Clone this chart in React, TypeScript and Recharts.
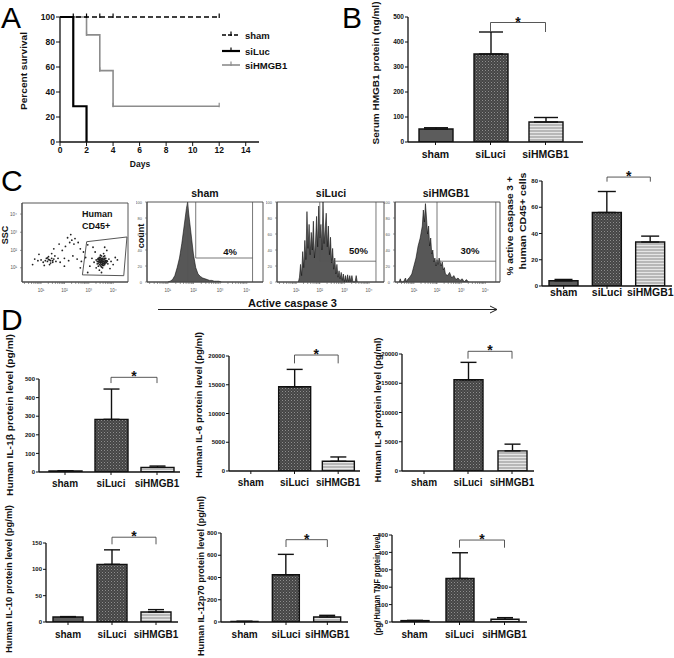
import React from 'react';
import {
  BarChart, Bar, Cell, XAxis, YAxis, ErrorBar, ReferenceLine, LineChart, Line,
  ScatterChart, Scatter, AreaChart, Area, ReferenceArea,
} from 'recharts';

const FONT = '"Liberation Sans", Arial, Helvetica, sans-serif';

/* ======================= DATA ======================= */
const groups = ['sham', 'siLuci', 'siHMGB1'];

// A - survival
const dayTicks = [0, 2, 4, 6, 8, 10, 12, 14];
const percentTicks = [0, 20, 40, 60, 80, 100];
const shamDays = [0, 1, 2, 3, 4, 12];
const shamSurvival = [100, 100, 100, 100, 100, 100];
const shamCensor = [0, 1, 1, 1, 1, 1];
const siLucDays = [0, 1, 2];
const siLucSurvival = [100, 28.6, 0];
const siLucCensor = [0, 0, 0];
const siHmgbDays = [0, 2, 3, 4, 12];
const siHmgbSurvival = [100, 85.7, 57.1, 28.6, 28.6];
const siHmgbCensor = [0, 1, 1, 1, 1];

// B - serum HMGB1 (ng/ml)
const serumMean = [52, 352, 80];
const serumSem = [5, 88, 18];
const serumTicks = [0, 100, 200, 300, 400, 500];
const serumBracket = [440, 478];

// C - flow cytometry
const dotX = [74, 75, 76, 73, 77, 78, 72, 75, 76, 74, 79, 71, 77, 80, 73, 75, 78, 70, 81, 76, 72, 74, 79, 68, 82, 77, 70, 84, 73, 66, 86, 80, 69, 88, 64, 75, 83, 90, 67, 78,
  74, 76, 75, 77, 73, 78, 72, 76, 74, 75, 77, 79, 71, 76, 73, 78,
  74.5, 75.5, 76.5, 73.5, 77.5, 72.5, 78.5, 75, 76, 74, 73, 77, 79.5, 71.5, 80.5, 74, 76, 75, 78, 72,
  26, 24, 28, 22, 27, 30, 25, 20, 29, 23, 32, 18, 26, 31, 15, 34, 21, 36, 12, 28, 25, 27, 24, 29,
  40, 44, 48, 52, 56, 60, 38, 45, 47, 50, 43, 49, 53, 46, 41, 55, 58, 35, 30, 62, 16, 10, 55, 62, 40];
const dotY = [25, 27, 24, 22, 26, 28, 26, 22, 30, 29, 24, 23, 21, 27, 31, 19, 33, 28, 23, 18, 20, 34, 30, 25, 29, 36, 18, 26, 15, 30, 22, 40, 38, 31, 20, 12, 17, 28, 44, 44,
  26, 26, 28, 24, 27, 25, 24, 28, 23, 25, 29, 27, 26, 22, 29, 30,
  25.5, 24.5, 26.5, 27.5, 23.5, 28.5, 26, 29.5, 22.5, 31, 25, 32, 25, 29, 26, 20.5, 21, 33, 22, 30,
  28, 26, 30, 27, 24, 29, 32, 25, 27, 30, 26, 28, 22, 33, 27, 30, 21, 25, 29, 36, 28.5, 27, 30.5, 25,
  30, 27, 33, 29, 26, 31, 40, 50, 53, 55, 56, 48, 50, 60, 45, 42, 38, 48, 42, 47, 35, 22, 18, 12, 20];
const gateX = [57, 61, 99, 96, 57];
const gateY = [9, 51, 57, 8, 9];
const logMajor = [18, 40, 63, 86];
const logMajorLabel = ['10¹', '10²', '10³', '10⁴'];
const logTicks = [2.3, 6.2, 9, 11.2, 13, 14.5, 15.8, 17, 18, 24.8, 28.7, 31.5, 33.7, 35.5, 37, 38.3, 39.5, 40,
  46.8, 50.7, 53.5, 55.7, 57.5, 59, 60.3, 61.5, 63, 69.8, 73.7, 76.5, 78.7, 80.5, 82, 83.3, 84.5, 86];
const countTicks = [0, 20, 40, 60, 80, 100];

const shamBinX = [18, 20, 22, 24, 26, 28, 30, 32, 34, 35, 36, 38, 40, 42, 44, 46, 48, 50, 52, 54, 56, 58, 60, 62, 64];
const shamCount = [0, 1, 3, 8, 18, 30, 48, 70, 92, 100, 85, 60, 35, 18, 10, 7, 5, 4, 3, 2, 2, 1, 1, 1, 0];
const luciBinX = [20, 21, 22, 23, 24, 25, 26, 27, 28, 29, 30, 31, 32, 33, 34, 35, 36, 37, 38, 39, 40, 41, 42, 43, 44, 45, 46, 47, 48, 49,
  50, 51, 52, 53, 54, 55, 56, 57, 58, 59, 60, 61, 62, 63, 64, 65, 66, 67, 68, 69, 70, 71, 72, 73, 74, 75];
const luciCount = [0, 6, 22, 8, 38, 18, 52, 28, 88, 42, 72, 34, 62, 40, 76, 30, 50, 82, 44, 95, 55, 72, 40, 100, 48, 66, 86, 44, 70, 34,
  56, 24, 42, 16, 30, 10, 22, 6, 14, 4, 12, 2, 10, 0, 8, 0, 9, 0, 8, 0, 8, 0, 0, 0, 8, 0];
const hmgbBinX = [4, 5, 6, 8, 10, 11, 12, 14, 16, 18, 20, 22, 24, 26, 27, 28, 29, 30, 31, 32, 33, 34, 35, 36, 37, 38, 39, 40, 41, 42,
  43, 44, 45, 46, 47, 48, 50, 52, 54, 56, 58, 60, 62, 64, 66, 68, 70];
const hmgbCount = [0, 4, 0, 0, 5, 0, 3, 6, 10, 20, 30, 45, 55, 70, 90, 75, 98, 80, 60, 70, 45, 55, 35, 40, 25, 30, 20, 28, 22, 30,
  25, 20, 25, 15, 18, 10, 8, 12, 5, 8, 3, 5, 2, 4, 0, 3, 0];

// C - % active caspase 3+ human CD45+ cells
const caspMean = [4, 56, 33.5];
const caspSem = [1, 16, 4.5];
const caspTicks = [0, 20, 40, 60, 80];
const caspBracket = [79.5, 83];

// D - cytokines (pg/ml)
const il1bMean = [5, 283, 25];
const il1bSem = [1, 163, 7];
const il1bTicks = [0, 100, 200, 300, 400, 500];
const il1bBracket = [478, 509];

const il6Mean = [0, 14650, 1690];
const il6Sem = [0, 3020, 750];
const il6Ticks = [0, 5000, 10000, 15000, 20000];
const il6Bracket = [18720, 20170];

const il8Mean = [0, 15590, 3440];
const il8Sem = [0, 2980, 1150];
const il8Ticks = [0, 5000, 10000, 15000, 20000];
const il8Bracket = [19200, 20460];

const il10Mean = [9.5, 109.5, 19];
const il10Sem = [0.8, 27.5, 4.5];
const il10Ticks = [0, 50, 100, 150];
const il10Bracket = [147.5, 161];

const il12Mean = [5, 425, 45];
const il12Sem = [1, 183, 15];
const il12Ticks = [0, 200, 400, 600, 800];
const il12Bracket = [674, 740];

const tnfMean = [8, 250, 16];
const tnfSem = [1, 148, 9];
const tnfTicks = [0, 100, 200, 300, 400, 500];
const tnfBracket = [427, 471];

/* ======================= HELPERS ======================= */
type Geo = { x0: number; x1: number; y0: number; y1: number };
function place(g: Geo, yw: number, xh: number, mt: number, mr: number) {
  return { left: g.x0 - yw, top: g.y0 - mt, width: g.x1 - g.x0 + yw + mr, height: g.y1 - g.y0 + mt + xh };
}
const INK = '#111';
const barFills = ['#5c5c5c', 'url(#hatchDark)', 'url(#stripeLight)'];

function PatternDefs() {
  return (
    <svg width={0} height={0} style={{ position: 'absolute', left: 0, top: 0 }}>
      <defs>
        <pattern id="hatchDark" width={3} height={3} patternUnits="userSpaceOnUse">
          <rect width={3} height={3} fill="#454545" />
          <rect x={0} y={0} width={1} height={1} fill="#8e8e8e" />
          <rect x={1.5} y={1.5} width={1} height={1} fill="#727272" />
        </pattern>
        <pattern id="stripeLight" width={4} height={3} patternUnits="userSpaceOnUse">
          <rect width={4} height={3} fill="#b8b8b8" />
          <rect y={2} width={4} height={1} fill="#e6e6e6" />
        </pattern>
      </defs>
    </svg>
  );
}

interface BarSpec {
  geo: Geo; padL: number; padR: number; max: number; ticks: number[];
  mean: number[]; sem: number[]; bracket: number[]; barSize: number; cap: number;
  catFont: number; catGap: number; tickFont: number;
}

function BarPanel({ s }: { s: BarSpec }) {
  const YW = 34, XH = 28, MT = 34, MR = 4;
  const p = place(s.geo, YW, XH, MT, MR);
  const data = groups.map((g, i) => ({ group: g, mean: s.mean[i], err: [0, s.sem[i]] }));
  const lo = s.bracket[0];
  const hi = s.bracket[1];
  return (
    <div style={{ position: 'absolute', left: p.left, top: p.top }}>
      <BarChart width={p.width} height={p.height} data={data} margin={{ top: MT, right: MR, left: 0, bottom: 0 }}>
        <XAxis dataKey="group" height={XH} interval={0} padding={{ left: s.padL, right: s.padR }} tickSize={3} tickMargin={s.catGap}
          tick={{ fontSize: s.catFont, fontWeight: 700, fill: INK, fontFamily: FONT }}
          axisLine={{ stroke: INK, strokeWidth: 1.3 }} tickLine={{ stroke: INK, strokeWidth: 1 }} />
        <YAxis width={YW} domain={[0, s.max]} ticks={s.ticks} interval={0} allowDataOverflow tickSize={3} tickMargin={1}
          tick={{ fontSize: s.tickFont, fontWeight: 700, fill: INK, fontFamily: FONT }}
          axisLine={{ stroke: INK, strokeWidth: 1.3 }} tickLine={{ stroke: INK, strokeWidth: 1 }} />
        <Bar dataKey="mean" barSize={s.barSize} isAnimationActive={false} stroke={INK} strokeWidth={1.4}>
          {data.map((d, i) => <Cell key={d.group} fill={barFills[i]} />)}
          <ErrorBar dataKey="err" width={s.cap} stroke={INK} strokeWidth={1.4} direction="y" />
        </Bar>
        <ReferenceLine ifOverflow="visible" segment={[{ x: 'siLuci', y: lo }, { x: 'siLuci', y: hi }]} stroke="#444" strokeWidth={0.9} />
        <ReferenceLine ifOverflow="visible" segment={[{ x: 'siLuci', y: hi }, { x: 'siHMGB1', y: hi }]} stroke="#444" strokeWidth={0.9}
          label={{ value: '*', position: 'top', offset: -4, fontSize: 14, fontWeight: 700, fill: INK, fontFamily: FONT }} />
        <ReferenceLine ifOverflow="visible" segment={[{ x: 'siHMGB1', y: hi }, { x: 'siHMGB1', y: lo }]} stroke="#444" strokeWidth={0.9} />
      </BarChart>
    </div>
  );
}

const makeCensor = (color: string) => (pr: any) => {
  const key = `c-${pr.index}`;
  if (!pr.payload || !pr.payload.c) return <g key={key} />;
  return <line key={key} x1={pr.cx} x2={pr.cx} y1={pr.cy - 3.5} y2={pr.cy + 1} stroke={color} strokeWidth={1.2} />;
};

function SurvivalPanel() {
  const YW = 36, XH = 20, MT = 8, MR = 4;
  const p = place({ x0: 60, x1: 259, y0: 17, y1: 142 }, YW, XH, MT, MR);
  const sham = shamDays.map((d, i) => ({ day: d, v: shamSurvival[i], c: shamCensor[i] }));
  const luc = siLucDays.map((d, i) => ({ day: d, v: siLucSurvival[i], c: siLucCensor[i] }));
  const hmgb = siHmgbDays.map((d, i) => ({ day: d, v: siHmgbSurvival[i], c: siHmgbCensor[i] }));
  const tk = { fontSize: 8.5, fontWeight: 700, fill: INK, fontFamily: FONT };
  return (
    <div style={{ position: 'absolute', left: p.left, top: p.top }}>
      <LineChart width={p.width} height={p.height} margin={{ top: MT, right: MR, left: 0, bottom: 0 }}>
        <XAxis type="number" dataKey="day" domain={[0, 15]} ticks={dayTicks} interval={0} height={XH} tickSize={4} tickMargin={1}
          tick={tk} axisLine={{ stroke: INK, strokeWidth: 1.3 }} tickLine={{ stroke: INK }} />
        <YAxis type="number" domain={[0, 100]} ticks={percentTicks} interval={0} width={YW} tickSize={4} tickMargin={1}
          tick={tk} axisLine={{ stroke: INK, strokeWidth: 1.3 }} tickLine={{ stroke: INK }} />
        <Line data={hmgb} dataKey="v" type="stepAfter" stroke="#8c8c8c" strokeWidth={1.6} isAnimationActive={false}
          dot={makeCensor('#8c8c8c')} activeDot={false} />
        <Line data={luc} dataKey="v" type="stepAfter" stroke="#000" strokeWidth={2.2} isAnimationActive={false}
          dot={makeCensor('#000')} activeDot={false} />
        <Line data={sham} dataKey="v" type="stepAfter" stroke="#000" strokeWidth={1.4} strokeDasharray="5 3" isAnimationActive={false}
          dot={makeCensor('#000')} activeDot={false} />
      </LineChart>
    </div>
  );
}

function TinyXTick(pr: any) {
  const idx = logMajor.indexOf(pr.payload.value);
  if (idx < 0) return <g />;
  return <text x={pr.x} y={pr.y + 6} fontSize={4.5} textAnchor="middle" fill="#555" fontFamily={FONT}>{logMajorLabel[idx]}</text>;
}
function TinyYTick(pr: any) {
  return <text x={pr.x - 1} y={pr.y + 1.5} fontSize={4} textAnchor="end" fill="#555" fontFamily={FONT}>{pr.payload.value}</text>;
}
function TinyLogYTick(pr: any) {
  const idx = logMajor.indexOf(pr.payload.value);
  return <text x={pr.x - 1} y={pr.y + 1.5} fontSize={4.5} textAnchor="end" fill="#555" fontFamily={FONT}>{logMajorLabel[idx]}</text>;
}

function DotPlot() {
  const YW = 14, XH = 12, MT = 2, MR = 2;
  const p = place({ x0: 22, x1: 128, y0: 203, y1: 282 }, YW, XH, MT, MR);
  const pts = dotX.map((x, i) => ({ x, y: dotY[i] }));
  const gate = gateX.map((x, i) => ({ x, y: gateY[i] }));
  return (
    <div style={{ position: 'absolute', left: p.left, top: p.top }}>
      <ScatterChart width={p.width} height={p.height} margin={{ top: MT, right: MR, left: 0, bottom: 0 }}>
        <XAxis type="number" dataKey="x" domain={[0, 100]} ticks={logTicks} interval={0} height={XH} tickSize={2}
          tick={(t: any) => <TinyXTick {...t} />} axisLine={{ stroke: '#444' }} tickLine={{ stroke: '#555', strokeWidth: 0.6 }} />
        <YAxis type="number" dataKey="y" domain={[0, 100]} ticks={logMajor} interval={0} width={YW} tickSize={2}
          tick={(t: any) => <TinyLogYTick {...t} />} axisLine={{ stroke: '#444' }} tickLine={{ stroke: '#555', strokeWidth: 0.6 }} />
        <ReferenceArea x1={0} x2={100} y1={0} y2={100} fill="none" stroke="#444" strokeWidth={0.9} ifOverflow="visible" />
        <Scatter data={pts} isAnimationActive={false}
          shape={(s: any) => <circle cx={s.cx} cy={s.cy} r={0.9} fill="#222" />} />
        <Scatter data={gate} isAnimationActive={false} line={{ stroke: '#444', strokeWidth: 0.9 }}
          shape={() => <g />} />
      </ScatterChart>
    </div>
  );
}

interface HistSpec { x0: number; x1: number; bins: number[]; counts: number[]; peakLine?: number; gL: number; gH: number; gR: number; }
function Histogram({ h }: { h: HistSpec }) {
  const YW = 11, XH = 12, MT = 2, MR = 2;
  const p = place({ x0: h.x0, x1: h.x1, y0: 202, y1: 282 }, YW, XH, MT, MR);
  const rows = h.bins.map((x, i) => ({ x, y: h.counts[i] }));
  const ln = { stroke: '#555', strokeWidth: 0.8 };
  return (
    <div style={{ position: 'absolute', left: p.left, top: p.top }}>
      <AreaChart width={p.width} height={p.height} data={rows} margin={{ top: MT, right: MR, left: 0, bottom: 0 }}>
        <XAxis type="number" dataKey="x" domain={[0, 100]} ticks={logTicks} interval={0} height={XH} tickSize={2}
          tick={(t: any) => <TinyXTick {...t} />} axisLine={{ stroke: '#444' }} tickLine={{ stroke: '#555', strokeWidth: 0.6 }} />
        <YAxis type="number" domain={[0, 100]} ticks={countTicks} interval={0} width={YW} tickSize={2}
          tick={(t: any) => <TinyYTick {...t} />} axisLine={{ stroke: '#444' }} tickLine={{ stroke: '#555', strokeWidth: 0.6 }} />
        <ReferenceArea x1={0} x2={100} y1={0} y2={100} fill="none" stroke="#444" strokeWidth={0.9} ifOverflow="visible" />
        <Area dataKey="y" type="linear" fill="#575757" fillOpacity={1} stroke="#111" strokeWidth={0.6} isAnimationActive={false}
          dot={false} activeDot={false} />
        {h.peakLine !== undefined && (
          <ReferenceLine segment={[{ x: h.peakLine, y: 0 }, { x: h.peakLine, y: 100 }]} {...ln} />
        )}
        <ReferenceLine segment={[{ x: h.gL, y: 100 }, { x: h.gL, y: h.gH }]} {...ln} />
        <ReferenceLine segment={[{ x: h.gL, y: h.gH }, { x: h.gR, y: h.gH }]} {...ln} />
        <ReferenceLine segment={[{ x: h.gR, y: 0 }, { x: h.gR, y: 100 }]} {...ln} />
      </AreaChart>
    </div>
  );
}

function VText({ x, y, len, size = 9, children }: { x: number; y: number; len?: number; size?: number; children: React.ReactNode }) {
  return (
    <text transform={`translate(${x},${y}) rotate(-90)`} textAnchor="middle" dominantBaseline="central"
      fontSize={size} fontWeight={700} fontFamily={FONT} fill={INK}
      textLength={len} lengthAdjust={len ? 'spacingAndGlyphs' : undefined}>{children}</text>
  );
}

function Overlay() {
  const bold = { fontWeight: 700, fontFamily: FONT, fill: INK } as const;
  const letter = { fontSize: 30, fontFamily: FONT, fill: '#000' } as const;
  return (
    <svg width={674} height={658} style={{ position: 'absolute', left: 0, top: 0, pointerEvents: 'none' }}>
      {/* panel letters */}
      <text x={1} y={28} {...letter}>A</text>
      <text x={342} y={28} {...letter}>B</text>
      <text x={1} y={191} {...letter}>C</text>
      <text x={1} y={330} {...letter}>D</text>

      {/* A */}
      <VText x={23.5} y={71} len={78} size={9}>Percent survival</VText>
      <text x={140} y={167} textAnchor="middle" fontSize={8.5} {...bold}>Days</text>
      <line x1={222} x2={240} y1={35} y2={35} stroke="#000" strokeWidth={1.4} strokeDasharray="4 2" />
      <line x1={231} x2={231} y1={31.5} y2={36} stroke="#000" strokeWidth={1.2} />
      <text x={245} y={38.5} fontSize={9.5} {...bold}>sham</text>
      <line x1={222} x2={240} y1={51} y2={51} stroke="#000" strokeWidth={2.2} />
      <line x1={231} x2={231} y1={47.5} y2={52} stroke="#000" strokeWidth={1.2} />
      <text x={245} y={54.5} fontSize={9.5} {...bold}>siLuc</text>
      <line x1={222} x2={240} y1={65} y2={65} stroke="#8c8c8c" strokeWidth={1.6} />
      <line x1={231} x2={231} y1={61.5} y2={66} stroke="#8c8c8c" strokeWidth={1.2} />
      <text x={245} y={68.5} fontSize={9.5} {...bold}>siHMGB1</text>

      {/* B */}
      <VText x={376} y={73} len={143} size={9}>Serum HMGB1 protein (ng/ml)</VText>

      {/* C flow */}
      <VText x={5} y={235} size={9}>SSC</VText>
      <text x={82} y={217} fontSize={9} {...bold}>Human</text>
      <text x={82} y={229} fontSize={9} {...bold}>CD45+</text>
      <VText x={141} y={236} size={9}>count</VText>
      <text x={205} y={197} textAnchor="middle" fontSize={10.5} {...bold}>sham</text>
      <text x={331} y={197} textAnchor="middle" fontSize={10.5} {...bold}>siLuci</text>
      <text x={446} y={197} textAnchor="middle" fontSize={10.5} {...bold}>siHMGB1</text>
      <text x={230} y={255} textAnchor="middle" fontSize={9.5} {...bold}>4%</text>
      <text x={358.5} y={254} textAnchor="middle" fontSize={9.5} {...bold}>50%</text>
      <text x={470} y={254} textAnchor="middle" fontSize={9.5} {...bold}>30%</text>
      <text x={248} y={307} fontSize={11} textLength={89} lengthAdjust="spacingAndGlyphs" {...bold}>Active caspase 3</text>
      <line x1={158} x2={497} y1={309.5} y2={309.5} stroke="#222" strokeWidth={1.2} />
      <polyline points="490,306 497,309.5 490,313" fill="none" stroke="#222" strokeWidth={1} />

      {/* C bar */}
      <VText x={510} y={226} len={99} size={9}>% active caspase 3 +</VText>
      <VText x={523} y={221} len={97} size={9}>human CD45+ cells</VText>

      {/* D */}
      <VText x={9} y={415} len={162} size={9.5}>Human IL-1β protein level (pg/ml)</VText>
      <VText x={198} y={405} len={146} size={9.5}>Human IL-6 protein level (pg/ml)</VText>
      <VText x={377} y={410} len={145} size={9.5}>Human IL-8 protein level (pg/ml)</VText>
      <VText x={8} y={579} len={148} size={9.5}>Human IL-10 protein level (pg/ml)</VText>
      <VText x={200} y={576} len={160} size={9.5}>Human IL-12p70 protein level (pg/ml)</VText>
      <VText x={376} y={577} len={85} size={9.5}>Human TNF protein level</VText>
      <VText x={377} y={628} len={15} size={9.5}>(pg/</VText>
    </svg>
  );
}

/* ======================= SPECS ======================= */
const specB: BarSpec = { geo: { x0: 408, x1: 583, y0: 17, y1: 142 }, padL: 0, padR: 10, max: 500, ticks: serumTicks,
  mean: serumMean, sem: serumSem, bracket: serumBracket, barSize: 34, cap: 12, catFont: 10.5, catGap: 6, tickFont: 6.5 };
const specC: BarSpec = { geo: { x0: 542, x1: 672, y0: 181, y1: 286 }, padL: 0, padR: 0, max: 80, ticks: caspTicks,
  mean: caspMean, sem: caspSem, bracket: caspBracket, barSize: 29, cap: 9, catFont: 10.5, catGap: 0, tickFont: 6 };
const specD1: BarSpec = { geo: { x0: 39, x1: 180, y0: 379, y1: 472 }, padL: 3, padR: 0, max: 500, ticks: il1bTicks,
  mean: il1bMean, sem: il1bSem, bracket: il1bBracket, barSize: 33, cap: 8, catFont: 10, catGap: 5, tickFont: 6 };
const specD2: BarSpec = { geo: { x0: 229, x1: 360, y0: 356, y1: 471 }, padL: 0, padR: 0, max: 20000, ticks: il6Ticks,
  mean: il6Mean, sem: il6Sem, bracket: il6Bracket, barSize: 32, cap: 8, catFont: 10, catGap: 5, tickFont: 6 };
const specD3: BarSpec = { geo: { x0: 402, x1: 534, y0: 354, y1: 471 }, padL: 0, padR: 0, max: 20000, ticks: il8Ticks,
  mean: il8Mean, sem: il8Sem, bracket: il8Bracket, barSize: 29, cap: 8, catFont: 10, catGap: 5, tickFont: 6 };
const specD4: BarSpec = { geo: { x0: 46, x1: 178, y0: 543, y1: 622 }, padL: 0, padR: 0, max: 150, ticks: il10Ticks,
  mean: il10Mean, sem: il10Sem, bracket: il10Bracket, barSize: 30, cap: 8, catFont: 10, catGap: 6, tickFont: 6 };
const specD5: BarSpec = { geo: { x0: 221, x1: 348, y0: 533, y1: 622 }, padL: 3, padR: 0, max: 800, ticks: il12Ticks,
  mean: il12Mean, sem: il12Sem, bracket: il12Bracket, barSize: 27, cap: 8, catFont: 10, catGap: 6, tickFont: 6 };
const specD6: BarSpec = { geo: { x0: 392, x1: 527, y0: 535, y1: 622 }, padL: 0, padR: 0, max: 500, ticks: tnfTicks,
  mean: tnfMean, sem: tnfSem, bracket: tnfBracket, barSize: 28, cap: 8, catFont: 10, catGap: 6, tickFont: 6 };

const histSham: HistSpec = { x0: 147, x1: 263, bins: shamBinX, counts: shamCount, peakLine: 35, gL: 42, gH: 30, gR: 91 };
const histLuci: HistSpec = { x0: 277, x1: 384, bins: luciBinX, counts: luciCount, gL: 40, gH: 26, gR: 92.5 };
const histHmgb: HistSpec = { x0: 395, x1: 500, bins: hmgbBinX, counts: hmgbCount, gL: 40, gH: 26, gR: 96 };

export default function App() {
  return (
    <div style={{ position: 'absolute', left: 0, top: 0, width: 674, height: 658, background: '#fff', overflow: 'hidden', fontFamily: FONT }}>
      <PatternDefs />
      <SurvivalPanel />
      <BarPanel s={specB} />
      <DotPlot />
      <Histogram h={histSham} />
      <Histogram h={histLuci} />
      <Histogram h={histHmgb} />
      <BarPanel s={specC} />
      <BarPanel s={specD1} />
      <BarPanel s={specD2} />
      <BarPanel s={specD3} />
      <BarPanel s={specD4} />
      <BarPanel s={specD5} />
      <BarPanel s={specD6} />
      <Overlay />
    </div>
  );
}
